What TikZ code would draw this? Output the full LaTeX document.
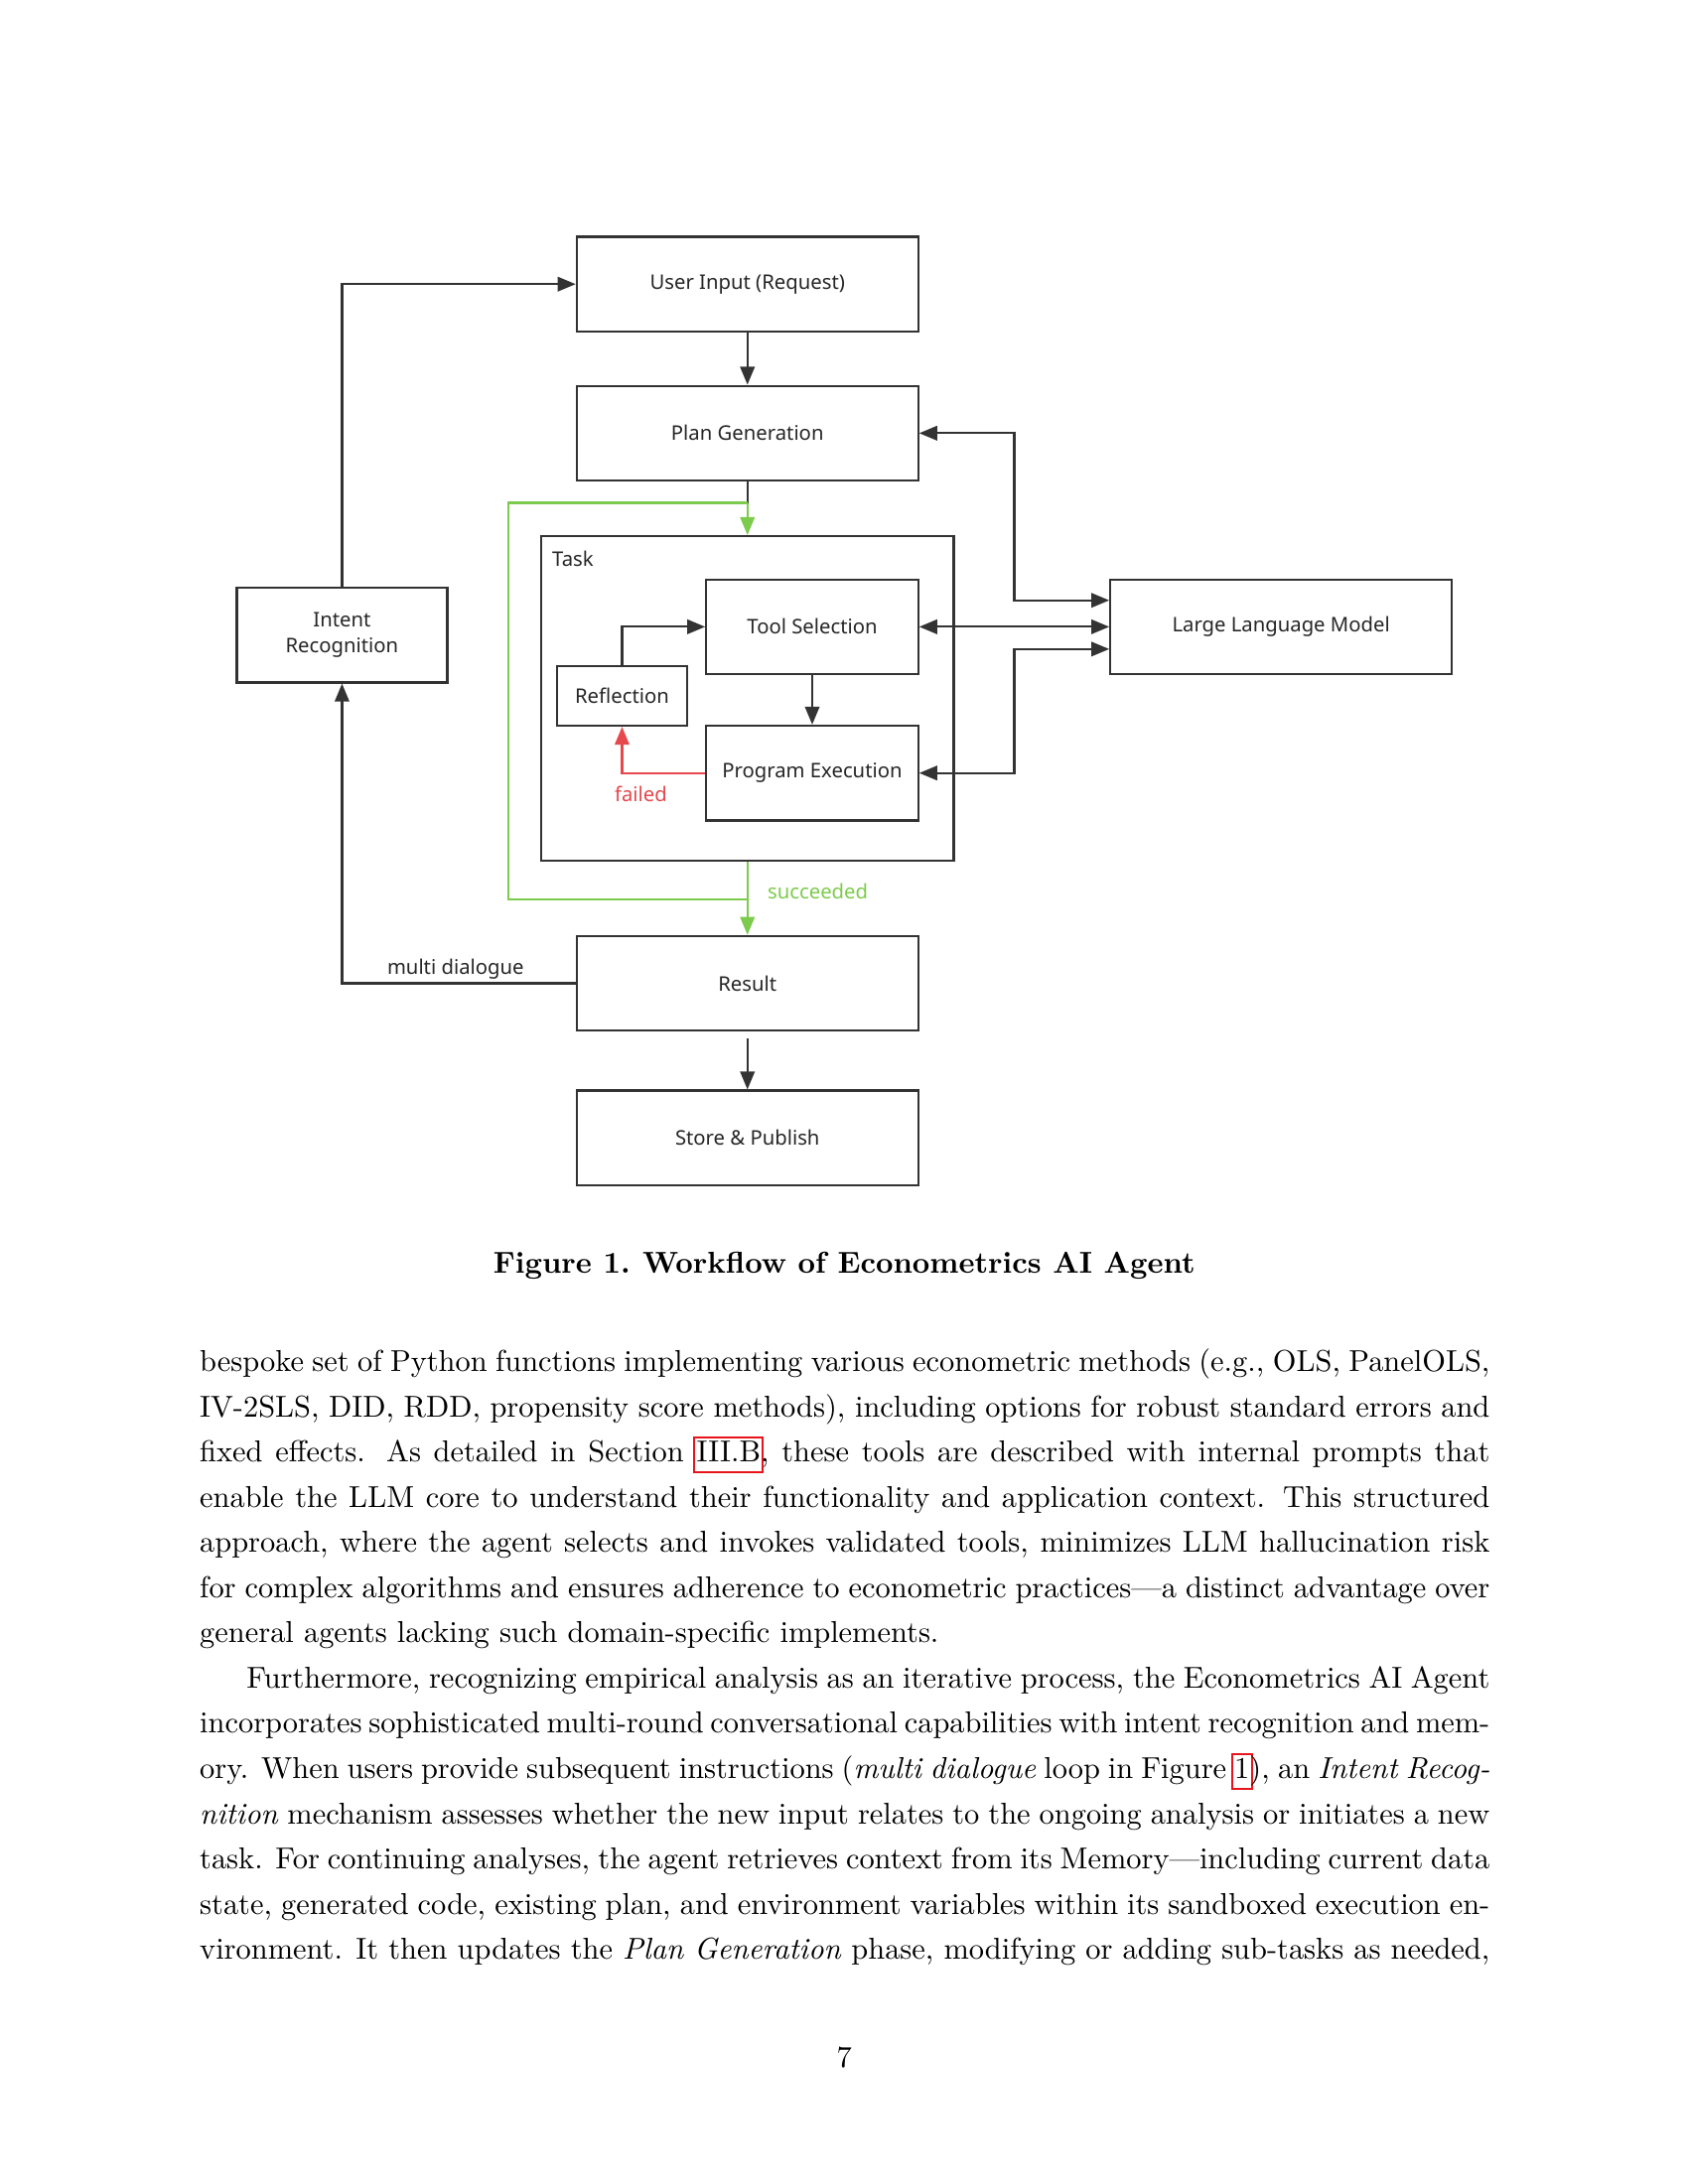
\documentclass[tikz,border=0pt]{standalone}
\usepackage{fontspec}
\usetikzlibrary{arrows.meta}
\newfontfamily\diagfont{Noto Sans}
\definecolor{linec}{HTML}{333333}
\definecolor{textc}{HTML}{262626}
\definecolor{okgreen}{HTML}{7DCB4C}
\definecolor{failred}{HTML}{E5484D}
\definecolor{linkred}{HTML}{E8141B}
\newcommand{\linkbox}[1]{\leavevmode\sbox0{#1}\rlap{\kern-1.2pt\textcolor{linkred}{\setlength{\fboxsep}{0pt}\setlength{\fboxrule}{0.8pt}\raisebox{-3.4pt}{\fbox{\rule{0pt}{11.8pt}\kern\wd0\kern0.8pt}}}}#1}

\begin{document}
\begin{tikzpicture}[x=0.5051pt,y=-0.5051pt,
  box/.style={draw=linec,line width=0.8pt,text=textc,align=center,inner sep=1pt,font=\diagfont\fontsize{7.3}{9.1}\selectfont,minimum width=123.75pt,minimum height=34.35pt},
  small/.style={box,minimum width=76.8pt},
  lbl/.style={font=\diagfont\fontsize{7.3}{9.1}\selectfont,inner sep=0pt},
  arr/.style={draw=linec,line width=0.8pt,-{Triangle[length=6.5pt,width=5.2pt]}},
  both/.style={arr,{Triangle[length=6.5pt,width=5.2pt]}-{Triangle[length=6.5pt,width=5.2pt]}},
  ok/.style={draw=okgreen,line width=0.8pt},
  fail/.style={draw=failred,line width=0.8pt,-{Triangle[length=6.5pt,width=5.2pt]}}]
\fill[white] (0,0) rectangle (1212,1568);
\useasboundingbox (0,0) rectangle (1212,1568);
\node[box] at (536.5,204) (input) {User Input (Request)};
\node[box] at (536.5,311) (plan) {Plan Generation};
\node[draw=linec,line width=0.8pt,minimum width=149.5pt,minimum height=117.7pt] at (536.5,501.5) (task) {};
\node[lbl,anchor=west,text=textc] at (396,401) (tasklbl) {Task};
\node[small] at (583,450) (tool) {Tool Selection};
\node[box,minimum width=47pt,minimum height=21.7pt] at (446.5,499.5) (refl) {Reflection};
\node[small] at (583,555) (exec) {Program Execution};
\node[box,minimum width=76.3pt] at (245.5,456) (intent) {Intent\\Recognition};
\node[box] at (919.5,450) (llm) {Large Language Model};
\node[box] at (536.5,706) (res) {Result};
\node[box] at (536.5,817) (store) {Store \& Publish};
\coordinate (j1) at (536.5,361);
\coordinate (j2) at (536.5,646);
\coordinate (g1) at (365,361);
\coordinate (g2) at (365,646);
\coordinate (up) at (728,431);
\coordinate (dn) at (728,466);
\draw[arr] (input) -- (plan);
\draw[draw=linec,line width=0.8pt] (plan) -- (j1);
\draw[ok] (j1) -- (g1) -- (g2) -- (j2);
\draw[ok,-{Triangle[length=6.5pt,width=5.2pt]}] (j1) -- (task);
\draw[ok,-{Triangle[length=6.5pt,width=5.2pt]}] (task) -- (res);
\node[lbl,text=okgreen] at (587,640) (succ) {succeeded};
\draw[arr] (tool) -- (exec);
\draw[arr] (refl) |- (tool);
\draw[fail] (exec) -| (refl);
\node[lbl,text=failred] at (460,570) (failed) {failed};
\draw[both] (plan.east) -| (up) -- (up -| llm.west);
\draw[both] (tool) -- (llm);
\draw[both] (exec.east) -| (dn) -- (dn -| llm.west);
\draw[arr] (intent) |- (input);
\draw[arr] (res) -| (intent);
\node[lbl,text=textc] at (327,696) (multi) {multi dialogue};
\draw[arr,shorten <=2.5pt] (res) -- (store);
\node[font=\bfseries\fontsize{10.95}{13.6}\selectfont,inner sep=0pt] at (606,909) (caption) {Figure 1.\hspace{4.5pt}Workflow of Econometrics AI Agent};
\node[anchor=north west,text width=467.7pt,inner sep=0pt,align=justify,font=\fontsize{10.95}{16.4}\selectfont] at (143,968) (body) {bespoke set of Python functions implementing various econometric methods (e.g., OLS, PanelOLS,\linebreak
IV-2SLS, DID, RDD, propensity score methods), including options for robust standard errors and\linebreak
fixed effects.  As detailed in Section \linkbox{III.B}, these tools are described with internal prompts that\linebreak
enable the LLM core to understand their functionality and application context.  This structured\linebreak
approach, where the agent selects and invokes validated tools, minimizes LLM hallucination risk\linebreak
for complex algorithms and ensures adherence to econometric practices---a distinct advantage over\linebreak
general agents lacking such domain-specific implements.\par
\parfillskip=0pt\hspace*{17pt}Furthermore, recognizing empirical analysis as an iterative process, the Econometrics AI Agent\linebreak
{\spaceskip=3.65pt plus 1.8pt minus 2.2pt incorporates sophisticated multi-round conversational capabilities with intent recognition and mem-}\linebreak
ory. When users provide subsequent instructions (\emph{multi dialogue} loop in Figure \linkbox{1}), an \emph{Intent Recog-\linebreak
nition} mechanism assesses whether the new input relates to the ongoing analysis or initiates a new\linebreak
task. For continuing analyses, the agent retrieves context from its Memory---including current data\linebreak
state, generated code, existing plan, and environment variables within its sandboxed execution en-\linebreak
vironment. It then updates the \emph{Plan Generation} phase, modifying or adding sub-tasks as needed,\par};
\node[font=\fontsize{10.95}{13.6}\selectfont,inner sep=0pt] at (606,1477) (page) {7};
\end{tikzpicture}
\end{document}
